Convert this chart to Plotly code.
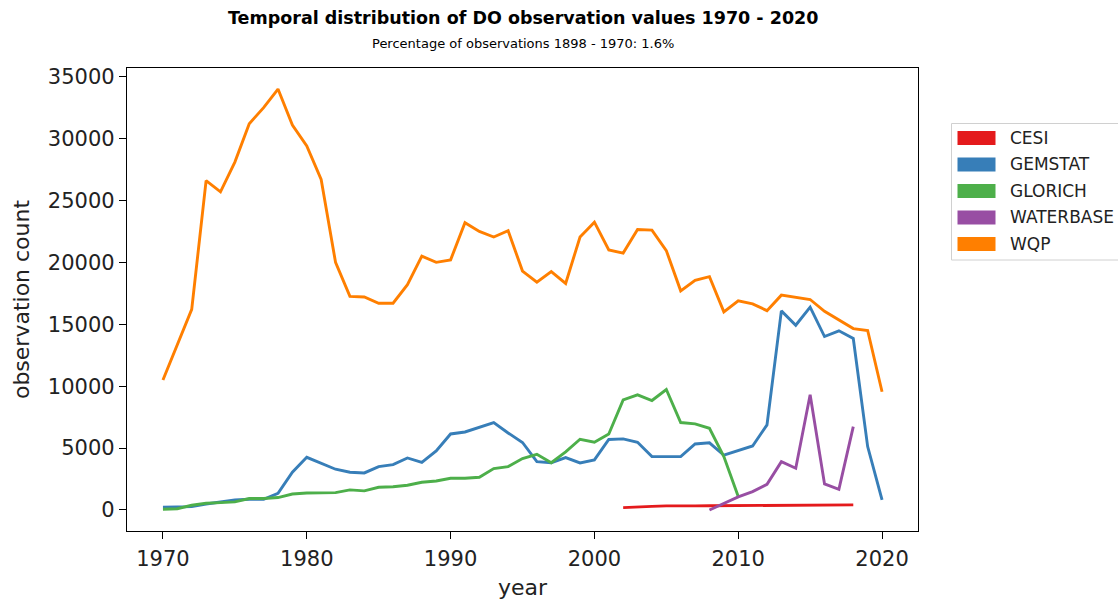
import plotly.graph_objects as go

years_wqp = list(range(1970, 2021))
wqp = [10500, 13300, 16200, 26600, 25700, 28100, 31200, 32500, 34000, 31100,
       29400, 26700, 20000, 17250, 17200, 16700, 16700, 18200, 20500, 20000,
       20200, 23200, 22500, 22050, 22550, 19300, 18400, 19250, 18300, 22050,
       23250, 21000, 20750, 22650, 22600, 20950, 17700, 18550, 18850, 16000,
       16900, 16650, 16100, 17350, 17150, 17000, 16050, 15350, 14650, 14500, 9550]

years_gem = list(range(1970, 2021))
gemstat = [220, 220, 270, 480, 670, 800, 860, 860, 1350, 3050,
           4250, 3770, 3290, 3050, 2990, 3500, 3660, 4200, 3850, 4770,
           6140, 6300, 6710, 7060, 6220, 5450, 3900, 3820, 4230, 3800,
           4040, 5690, 5740, 5470, 4310, 4310, 4310, 5330, 5420, 4420,
           4790, 5170, 6870, 16080, 14920, 16380, 14010, 14470, 13850, 5120, 810]

years_glo = list(range(1970, 2011))
glorich = [60, 100, 380, 540, 590, 650, 920, 920, 1000, 1290,
           1370, 1400, 1400, 1620, 1540, 1830, 1880, 2000, 2240, 2340,
           2560, 2560, 2640, 3340, 3500, 4150, 4500, 3820, 4690, 5710,
           5470, 6140, 8890, 9300, 8840, 9730, 7060, 6950, 6600, 4310, 1080]

years_cesi = list(range(2002, 2019))
cesi = [190, 270, 290, 330, 300, 330, 340, 350, 360, 370,
        390, 400, 410, 410, 420, 420, 410]

years_wb = list(range(2008, 2019))
waterbase = [0, 550, 1050, 1480, 2070, 3900, 3370, 9300, 2100, 1670, 6730]

names = ["CESI", "GEMSTAT", "GLORICH", "WATERBASE", "WQP"]
colors = ["#e41a1c", "#377eb8", "#4daf4a", "#984ea3", "#ff7f00"]
xs = [years_cesi, years_gem, years_glo, years_wb, years_wqp]
ys = [cesi, gemstat, glorich, waterbase, wqp]

title_text = "Temporal distribution of DO observation values 1970 - 2020"
subtitle_text = "Percentage of observations 1898 - 1970: 1.6%"

fig = go.Figure()
for n, c, x, y in zip(names, colors, xs, ys):
    fig.add_trace(go.Scatter(x=x, y=y, mode="lines", name=n,
                             line=dict(color=c, width=2.9), showlegend=False))

# legend drawn as matplotlib-like patches
plot_l, plot_r, plot_t, plot_b = 127, 918, 68, 531
pw, ph = plot_r - plot_l, plot_b - plot_t
def px(xp):
    return (xp - plot_l) / pw
def py(yp):
    return (plot_b - yp) / ph

shapes = [dict(type="rect", xref="paper", yref="paper",
               x0=px(951.5), x1=px(1130), y0=py(260), y1=py(123.5),
               line=dict(color="#d0d0d0", width=1), fillcolor="white", layer="above")]
annotations = []
row0, step = 138, 26.5
for i, (n, c) in enumerate(zip(names, colors)):
    yc = row0 + i * step
    shapes.append(dict(type="rect", xref="paper", yref="paper",
                       x0=px(957.5), x1=px(995.5), y0=py(yc + 7), y1=py(yc - 7),
                       line=dict(width=0), fillcolor=c, layer="above"))
    annotations.append(dict(text=n, xref="paper", yref="paper", x=px(1008), y=py(yc),
                            xanchor="left", yanchor="middle", showarrow=False,
                            font=dict(family="DejaVu Sans", size=17, color="#222")))

annotations.append(dict(text="<b>" + title_text + "</b>", xref="paper", yref="paper",
                        x=0.5, y=py(18), xanchor="center", yanchor="middle", showarrow=False,
                        font=dict(family="DejaVu Sans", size=17.5, color="black")))
annotations.append(dict(text=subtitle_text, xref="paper", yref="paper",
                        x=0.5, y=py(44), xanchor="center", yanchor="middle", showarrow=False,
                        font=dict(family="DejaVu Sans", size=13, color="black")))

axis_common = dict(showline=True, linecolor="black", linewidth=1.3, mirror=True,
                   ticks="outside", ticklen=7, tickwidth=1.3, tickcolor="black",
                   showgrid=False, zeroline=False, automargin=False,
                   tickfont=dict(family="DejaVu Sans", size=21, color="#222"))

fig.update_layout(
    width=1118, height=600,
    margin=dict(l=plot_l, r=1118 - plot_r, t=plot_t, b=600 - plot_b),
    paper_bgcolor="white", plot_bgcolor="white",
    showlegend=False,
    shapes=shapes, annotations=annotations,
    xaxis=dict(range=[1967.5, 2022.5], tickvals=[1970, 1980, 1990, 2000, 2010, 2020],
               ticklabelstandoff=2,
               title=dict(text="year", font=dict(family="DejaVu Sans", size=22, color="#222"),
                          standoff=10),
               **axis_common),
    yaxis=dict(range=[-1700, 35700], tickvals=list(range(0, 35001, 5000)), tickformat="d",
               title=dict(text="observation count",
                          font=dict(family="DejaVu Sans", size=22, color="#222"), standoff=12),
               **axis_common),
)

fig.write_html("out.html", config={"displayModeBar": False},
               post_script="document.body.style.margin='0';document.body.style.overflow='hidden';")
